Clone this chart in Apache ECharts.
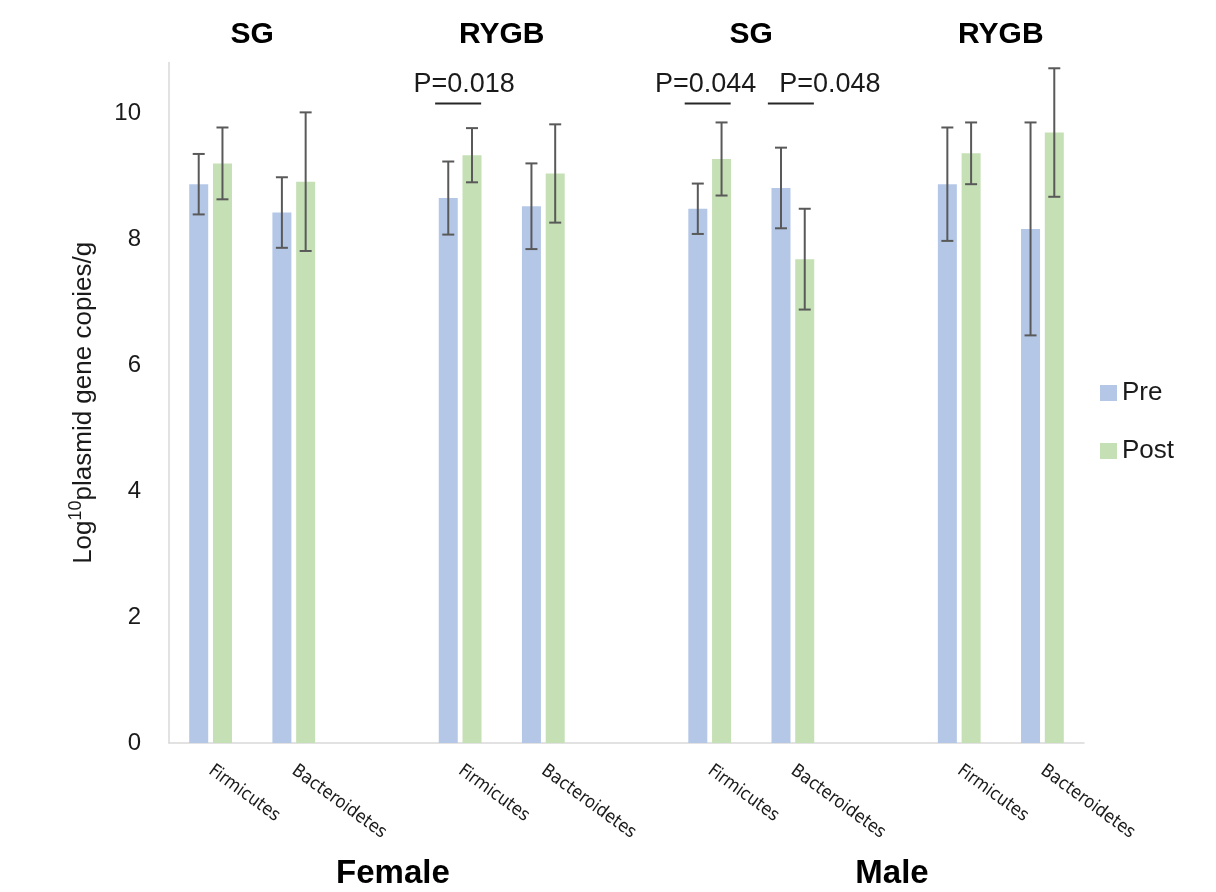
<!DOCTYPE html>
<html>
<head>
<meta charset="utf-8">
<script src="https://cdn.jsdelivr.net/npm/echarts@6/dist/echarts.min.js"></script>
<style>
html,body{margin:0;padding:0;background:#fff;}
#main{width:1216px;height:892px;}
</style>
</head>
<body>
<div id="main"></div>
<script>
// ---------- data ----------
const categories = ['Firmicutes','Bacteroidetes','','Firmicutes','Bacteroidetes','','Firmicutes','Bacteroidetes','','Firmicutes','Bacteroidetes'];
const preValues  = [8.87, 8.42, null, 8.65, 8.52, null, 8.48, 8.81, null, 8.87, 8.16];
const postValues = [9.20, 8.91, null, 9.33, 9.04, null, 9.27, 7.68, null, 9.36, 9.69];
const preErrors  = [0.48, 0.56, null, 0.58, 0.68, null, 0.40, 0.64, null, 0.90, 1.69];
const postErrors = [0.57, 1.10, null, 0.43, 0.78, null, 0.58, 0.80, null, 0.49, 1.02];
const seriesNames = ['Pre', 'Post'];
const yTicks = [0, 2, 4, 6, 8, 10];
const surgeryLabels = ['SG', 'RYGB', 'SG', 'RYGB'];
const surgeryCategoryPairs = [[0, 1], [3, 4], [6, 7], [9, 10]];
const sexLabels = ['Female', 'Male'];
const sexCategoryRanges = [[0, 4], [6, 10]];
const pTexts = ['P=0.018', 'P=0.044', 'P=0.048'];
const pCategoryIndex = [3, 6, 7];
const pLevel = 10.15;

// ---------- layout / style ----------
const BAR_W = 19;
const BAR_GAP = 0.25;
const OFFSET = (BAR_W + BAR_W * BAR_GAP) / 2;
const pTextShift = [4, -4, 37];     // px shift of text relative to pair centre
const pLineRange = [-25, 21];       // px extent of underline around pair centre
const colors = ['#B4C7E7', '#C5E0B4'];
const txt = '#1a1a1a';
const FONT = '"Liberation Sans", Arial, sans-serif';

function errData(vals, errs) {
  const out = [];
  vals.forEach((v, i) => { if (v != null) out.push([i, v - errs[i], v + errs[i]]); });
  return out;
}
function errSeries(vals, errs, sign) {
  return {
    type: 'custom',
    z: 10,
    silent: true,
    data: errData(vals, errs),
    renderItem: function (params, api) {
      const lo = api.coord([api.value(0), api.value(1)]);
      const hi = api.coord([api.value(0), api.value(2)]);
      const x = lo[0] + sign * OFFSET;
      const cap = 6;
      const style = { stroke: '#595959', lineWidth: 2 };
      return {
        type: 'group',
        children: [
          { type: 'line', shape: { x1: x, y1: lo[1], x2: x, y2: hi[1] }, style: style },
          { type: 'line', shape: { x1: x - cap, y1: lo[1], x2: x + cap, y2: lo[1] }, style: style },
          { type: 'line', shape: { x1: x - cap, y1: hi[1], x2: x + cap, y2: hi[1] }, style: style }
        ]
      };
    },
    encode: { x: 0, y: [1, 2] }
  };
}

const chart = echarts.init(document.getElementById('main'), null, { renderer: 'canvas' });
chart.setOption({
  animation: false,
  backgroundColor: '#ffffff',
  textStyle: { fontFamily: FONT },
  grid: { left: 169, right: 132, top: 62.6, bottom: 149, containLabel: false },
  legend: {
    data: seriesNames,
    orient: 'vertical',
    left: 1095,
    top: 375,
    icon: 'rect',
    itemWidth: 17,
    itemHeight: 16,
    itemGap: 32,
    textStyle: { fontSize: 26, color: txt, fontFamily: FONT, lineHeight: 26 }
  },
  xAxis: {
    type: 'category',
    data: categories,
    axisLine: { show: true, lineStyle: { color: '#d9d9d9', width: 1.5 } },
    axisTick: { show: false },
    axisLabel: {
      interval: 0,
      rotate: -36,
      margin: 26,
      fontSize: 18,
      color: txt,
      fontFamily: '"Liberation Sans Narrow", "DejaVu Sans Condensed", ' + FONT
    }
  },
  yAxis: {
    type: 'value',
    min: 0,
    max: 10.8,
    interval: 2,
    splitLine: { show: false },
    axisTick: { show: false },
    axisLine: { show: true, lineStyle: { color: '#d9d9d9', width: 1.5 } },
    axisLabel: {
      margin: 28,
      fontSize: 24,
      color: txt,
      formatter: function (v) { return yTicks.indexOf(v) >= 0 ? String(v) : ''; }
    },
    name: '{a|Log}{s|10}{a|plasmid gene copies/g}',
    nameLocation: 'middle',
    nameGap: 72,
    nameRotate: 90,
    nameTextStyle: {
      rich: {
        a: { fontSize: 26, color: txt, fontFamily: FONT, verticalAlign: 'bottom', lineHeight: 30 },
        s: { fontSize: 18, color: txt, fontFamily: FONT, verticalAlign: 'top', lineHeight: 30, padding: [0, 0, 13, 0] }
      }
    }
  },
  series: [
    { name: seriesNames[0], type: 'bar', data: preValues, barWidth: BAR_W, barGap: (BAR_GAP * 100) + '%', itemStyle: { color: colors[0] } },
    { name: seriesNames[1], type: 'bar', data: postValues, barWidth: BAR_W, itemStyle: { color: colors[1] } },
    errSeries(preValues, preErrors, -1),
    errSeries(postValues, postErrors, 1)
  ]
});

// annotations positioned through the chart's own scales
function px(i) { return chart.convertToPixel({ xAxisIndex: 0 }, i); }
function py(v) { return chart.convertToPixel({ yAxisIndex: 0 }, v); }
const g = [];
surgeryLabels.forEach((t, k) => {
  const pr = surgeryCategoryPairs[k];
  const cx = (px(pr[0]) + px(pr[1])) / 2;
  g.push({ type: 'text', x: cx, y: 35, style: { text: t, font: 'bold 30px ' + FONT, fill: '#000', textAlign: 'center', textVerticalAlign: 'middle' } });
});
sexLabels.forEach((t, k) => {
  const r = sexCategoryRanges[k];
  const cx = (px(r[0]) + px(r[1])) / 2 + 16;
  g.push({ type: 'text', x: cx, y: 874, style: { text: t, font: 'bold 33px ' + FONT, fill: '#000', textAlign: 'center', textVerticalAlign: 'middle' } });
});
pTexts.forEach((t, k) => {
  const cx = px(pCategoryIndex[k]);
  const ly = py(pLevel);
  g.push({ type: 'line', shape: { x1: cx + pLineRange[0], y1: ly, x2: cx + pLineRange[1], y2: ly }, style: { stroke: '#262626', lineWidth: 2 } });
  g.push({ type: 'text', x: cx + pTextShift[k], y: ly - 19, style: { text: t, font: '27px ' + FONT, fill: txt, textAlign: 'center', textVerticalAlign: 'middle' } });
});
chart.setOption({ graphic: g });
</script>
</body>
</html>
